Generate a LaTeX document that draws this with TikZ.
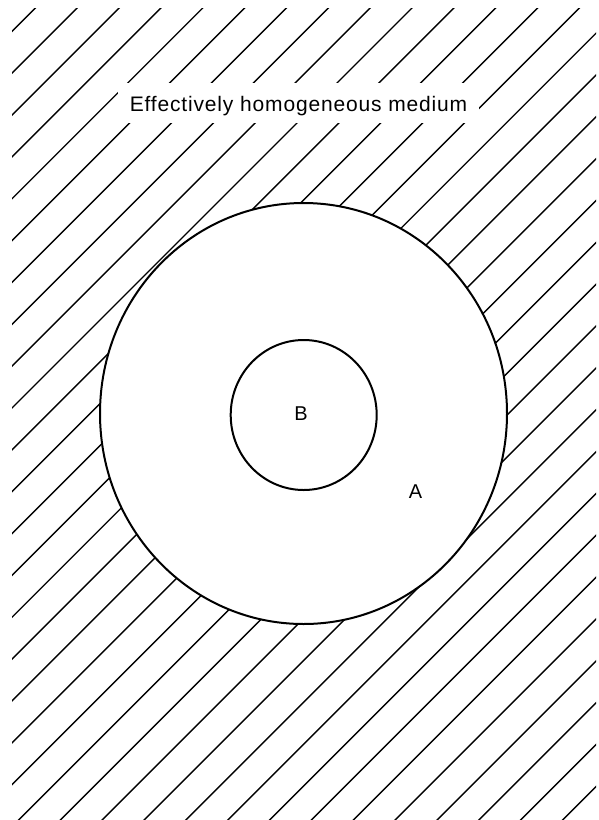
\documentclass[tikz,border=0pt]{standalone}
\usepackage{fontspec}
\setmainfont{Liberation Sans}
\newfontfamily\mediumfont[LetterSpace=4]{Liberation Sans}
\begin{document}
\begin{tikzpicture}[x=1pt,y=-1pt,font=\fontsize{20}{24}\selectfont,
  hatch/.style={line width=1.4pt},
  rim/.style={line width=2pt,fill=white}]
\useasboundingbox (0,0) rectangle (599,820);
% hatched medium
\begin{scope}
\clip (12,8) rectangle (596,820);
\foreach \k in {1,...,34}
  \draw[hatch] ({41.85*\k+1.5},0) -- ({41.85*\k+1.5-830},830);
\end{scope}
% regions A and B
\draw[rim] (303.5,413.5) ellipse [x radius=203.5,y radius=210.5];
\draw[rim] (303.7,415) ellipse [x radius=73,y radius=75];
\node[fill=white,anchor=base,inner xsep=12pt,inner ysep=10pt,text height=18pt,text depth=2pt,font=\mediumfont\fontsize{21}{25}\selectfont] (medium) at (298.5,111) {Effectively homogeneous medium};
\node (regionB) at (301,413.7) {B};
\node (regionA) at (415.5,491.5) {A};
\end{tikzpicture}
\end{document}
